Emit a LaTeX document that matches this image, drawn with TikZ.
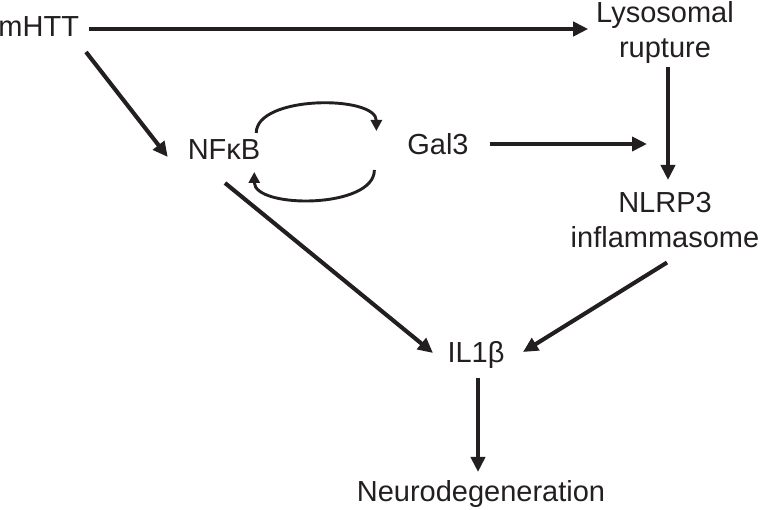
\documentclass[tikz,border=0pt]{standalone}
\usepackage{fontspec}
\setmainfont{Liberation Sans}
\usetikzlibrary{arrows.meta}
\definecolor{ink}{RGB}{35,31,32}
\begin{document}
\begin{tikzpicture}[x=1pt,y=-1pt,
  lbl/.style={inner sep=0pt, outer sep=0pt, text=ink, font=\fontsize{29}{35}\selectfont},
  arr/.style={draw=ink, line width=4.1pt, -{Triangle[length=15pt,width=14pt]}},
  looparr/.style={draw=ink, line width=2.9pt, -{Triangle[length=11pt,width=11pt]}}]
\useasboundingbox (0,0) rectangle (761,510);
% nodes
\node[lbl, anchor=base east] (mhtt) at (79,37) {mHTT};
\node[lbl, anchor=north, align=center] (lyso) at (665,1) {Lysosomal\\rupture};
\node[lbl, anchor=base] (nfkb) at (224,160) {NF\char"03BA B};
\node[lbl, anchor=base] (gal3) at (438,155) {Gal3};
\node[lbl, anchor=north, align=center] (nlrp3) at (665,192) {NLRP3\\inflammasome};
\node[lbl, anchor=base] (il1b) at (476,363) {IL1\char"03B2};
\node[lbl, anchor=base] (neuro) at (481,502) {Neurodegeneration};
% connectors
\draw[arr] ([shift={(10,-8)}]mhtt.base east) -- ([shift={(-8,28)}]lyso.north west);
\draw[arr] ([shift={(7,15)}]mhtt.base east) -- ([shift={(-20,-3)}]nfkb.base west);
\draw[arr] ([shift={(3,4)}]lyso.south) -- ([shift={(3,-12)}]nlrp3.north);
\draw[arr] ([shift={(21,-11)}]gal3.base east) -- ([shift={(-18,-48)}]nlrp3.north);
\draw[arr] ([shift={(1,23)}]nfkb.base) -- ([shift={(-14.5,-10)}]il1b.base west);
\draw[arr] ([shift={(2,15)}]nlrp3.south) -- ([shift={(18.5,-11)}]il1b.base east);
\draw[arr] ([shift={(2,15)}]il1b.base) -- ([shift={(-3,-9)}]neuro.north);
% feedback loop
\draw[looparr] ([shift={(-4,-27)}]nfkb.base east) .. controls +(0,-38) and +(0,-36) .. ([shift={(-31,-24)}]gal3.base west);
\draw[looparr] ([shift={(-33,15)}]gal3.base west) .. controls +(0,39) and +(0,37) .. ([shift={(-6,12)}]nfkb.base east);
\end{tikzpicture}
\end{document}
